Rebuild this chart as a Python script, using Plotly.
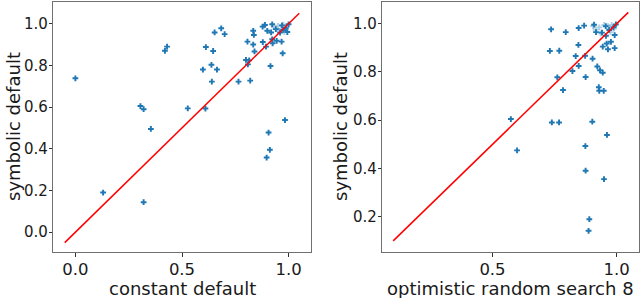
import plotly.graph_objects as go

# Left panel: constant default (x) vs symbolic default (y)
const_x = [0.00, 0.13, 0.305, 0.32, 0.32, 0.354, 0.42, 0.43, 0.527, 0.598, 0.612, 0.61,
           0.638, 0.64, 0.646, 0.653, 0.664, 0.684, 0.70, 0.765, 0.80, 0.807, 0.809, 0.815,
           0.82, 0.834, 0.834, 0.837, 0.84, 0.878, 0.879, 0.889, 0.894, 0.897, 0.90, 0.906,
           0.912, 0.915, 0.918, 0.923, 0.923, 0.925, 0.94, 0.944, 0.96, 0.967, 0.969, 0.972,
           0.975, 0.983, 0.987, 0.994, 1.0]
const_y = [0.738, 0.19, 0.605, 0.59, 0.144, 0.495, 0.87, 0.89, 0.594, 0.78, 0.888, 0.593,
           0.803, 0.722, 0.869, 0.958, 0.78, 0.978, 0.95, 0.722, 0.826, 0.914, 0.805, 0.824,
           0.727, 0.966, 0.90, 0.946, 0.867, 0.986, 0.912, 0.994, 0.89, 0.358, 0.966, 0.478,
           0.395, 0.797, 0.958, 0.997, 0.925, 0.906, 0.974, 0.918, 0.957, 0.914, 0.992, 0.858,
           0.97, 0.538, 0.978, 0.96, 0.997]
# faint (overlapping) points near the top-right corner
const_faint_x = [0.885, 0.93, 0.95, 0.965, 0.975, 0.98, 0.99, 0.955]
const_faint_y = [0.99, 0.985, 0.99, 0.975, 0.995, 0.96, 0.985, 0.965]

# Right panel: optimistic random search 8 (x) vs symbolic default (y)
rs_x = [0.574, 0.599, 0.731, 0.736, 0.739, 0.761, 0.769, 0.768, 0.784, 0.795, 0.822, 0.835,
        0.846, 0.847, 0.847, 0.869, 0.873, 0.875, 0.874, 0.875, 0.89, 0.887, 0.903, 0.902,
        0.909, 0.917, 0.922, 0.928, 0.93, 0.933, 0.941, 0.944, 0.944, 0.948, 0.949, 0.956,
        0.957, 0.96, 0.961, 0.965, 0.97, 0.977, 0.987, 0.992, 0.992, 0.997]
rs_y = [0.605, 0.475, 0.887, 0.977, 0.591, 0.778, 0.888, 0.591, 0.725, 0.965, 0.804, 0.866,
        0.912, 0.982, 0.825, 0.992, 0.867, 0.779, 0.493, 0.391, 0.19, 0.142, 0.855, 0.594,
        0.996, 0.965, 0.823, 0.737, 0.722, 0.807, 0.963, 0.797, 0.905, 0.722, 0.356, 0.99,
        0.95, 0.918, 0.539, 0.894, 0.974, 0.925, 0.985, 0.953, 0.899, 0.997]
rs_faint_x = [0.905, 0.915, 0.93, 0.95, 0.965, 0.98, 0.99, 0.935, 0.975]
rs_faint_y = [0.99, 0.975, 0.985, 0.995, 0.99, 0.995, 0.98, 0.96, 0.965]

diag_left = [-0.05, 1.05]
diag_right = [0.1, 1.047]

left_xticks = [0.0, 0.5, 1.0]
left_yticks = [0.0, 0.2, 0.4, 0.6, 0.8, 1.0]
right_xticks = [0.5, 1.0]
right_yticks = [0.2, 0.4, 0.6, 0.8, 1.0]

BLUE = "#1f77b4"
FONT = "DejaVu Sans"
TXT = "#1a1a1a"

fig = go.Figure()

def add_points(x, y, xa, ya, opacity):
    fig.add_trace(go.Scatter(
        x=x, y=y, mode="markers", xaxis=xa, yaxis=ya, showlegend=False,
        marker=dict(symbol="cross", size=4.8, color=BLUE, opacity=opacity,
                    line=dict(width=0))))

add_points(const_faint_x, const_faint_y, "x", "y", 0.35)
add_points(const_x, const_y, "x", "y", 1.0)
fig.add_trace(go.Scatter(x=diag_left, y=diag_left, mode="lines", xaxis="x", yaxis="y",
                         line=dict(color="red", width=1.5), showlegend=False))

add_points(rs_faint_x, rs_faint_y, "x2", "y2", 0.35)
add_points(rs_x, rs_y, "x2", "y2", 1.0)
fig.add_trace(go.Scatter(x=diag_right, y=diag_right, mode="lines", xaxis="x2", yaxis="y2",
                         line=dict(color="red", width=1.5), showlegend=False))

axis_common = dict(showline=True, mirror=True, linecolor="#707070", linewidth=1.2,
                   showgrid=False, zeroline=False, ticks="outside",
                   tickcolor="#333", tickwidth=1)
xaxis_style = dict(ticklen=4, ticklabelstandoff=-2,
                   tickfont=dict(family=FONT, size=16.5, color=TXT), **axis_common)
yaxis_style = dict(ticklen=3, ticklabelstandoff=-2,
                   tickfont=dict(family=FONT, size=15, color=TXT), **axis_common)
title_font = dict(family=FONT, size=18, color=TXT)

y0, y1 = (298 - 252) / 298, (298 - 2) / 298

fig.update_layout(
    width=640, height=298,
    margin=dict(l=0, r=0, t=0, b=0),
    paper_bgcolor="white", plot_bgcolor="white",
    xaxis=dict(domain=[53 / 640, 311 / 640], range=[-0.105, 1.105],
               tickvals=left_xticks, ticktext=[f"{v:.1f}" for v in left_xticks],
               anchor="y", **xaxis_style),
    yaxis=dict(domain=[y0, y1], range=[-0.095, 1.104],
               tickvals=left_yticks, ticktext=[f"{v:.1f}" for v in left_yticks],
               anchor="x", **yaxis_style),
    xaxis2=dict(domain=[382 / 640, 639 / 640], range=[0.055, 1.09],
                tickvals=right_xticks, ticktext=[f"{v:.1f}" for v in right_xticks],
                anchor="y2", **xaxis_style),
    yaxis2=dict(domain=[y0, y1], range=[0.054, 1.09],
                tickvals=right_yticks, ticktext=[f"{v:.1f}" for v in right_yticks],
                anchor="x2", **yaxis_style),
    annotations=[
        dict(text="constant default", x=182 / 640, y=(298 - 288.5) / 298,
             xref="paper", yref="paper", xanchor="center", yanchor="middle",
             showarrow=False, font=title_font),
        dict(text="optimistic random search 8", x=510.5 / 640, y=(298 - 288.5) / 298,
             xref="paper", yref="paper", xanchor="center", yanchor="middle",
             showarrow=False, font=title_font),
        dict(text="symbolic default", x=13 / 640, y=(298 - 127) / 298,
             xref="paper", yref="paper", xanchor="center", yanchor="middle",
             textangle=-90, showarrow=False, font=title_font),
        dict(text="symbolic default", x=340 / 640, y=(298 - 127) / 298,
             xref="paper", yref="paper", xanchor="center", yanchor="middle",
             textangle=-90, showarrow=False, font=title_font),
    ],
)

fig.write_html("out.html", config={"displayModeBar": False},
               post_script="document.body.style.margin='0';document.body.style.overflow='hidden';")
